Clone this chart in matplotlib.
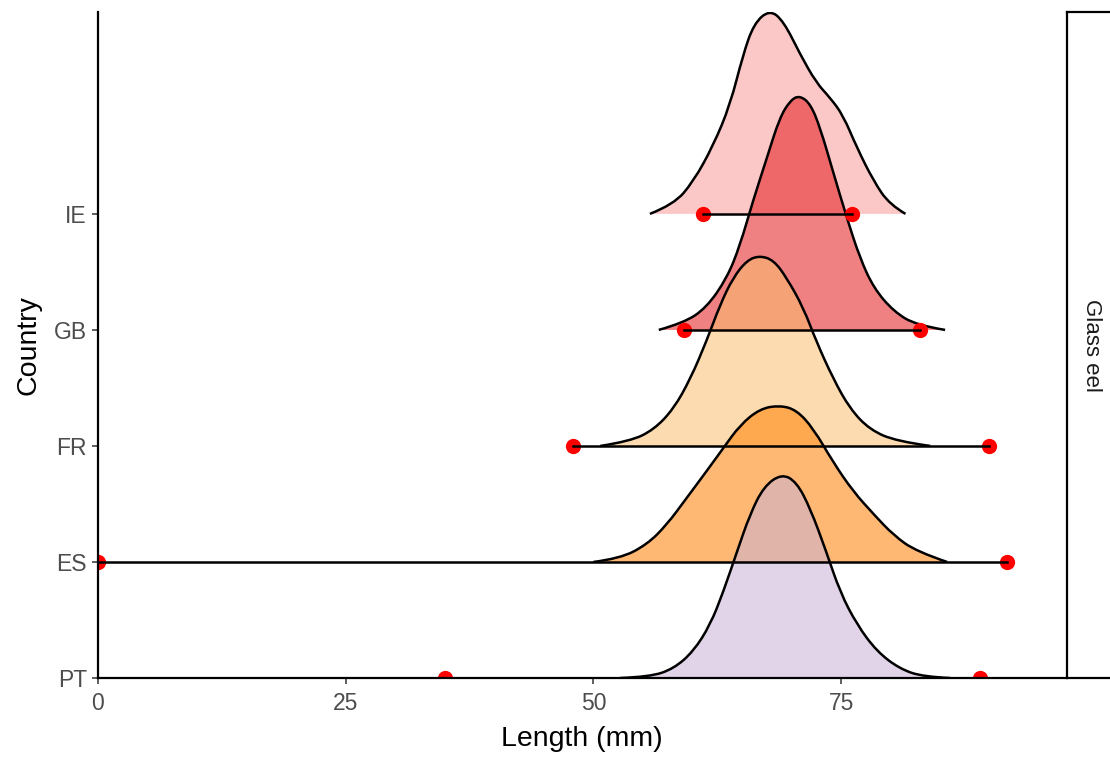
import matplotlib.pyplot as plt
import numpy as np
from matplotlib.path import Path
from matplotlib.patches import PathPatch

plt.rcParams['font.family'] = ['Liberation Sans', 'DejaVu Sans']

countries = ['PT', 'ES', 'FR', 'GB', 'IE']
colors = ['#CAB2D6', '#FF7F00', '#FDBF6F', '#E31A1C', '#FB9A99']

# density outlines (length in mm, ridge height in row units)
ie_x = [55.7, 58.1, 60.1, 62.1, 63.8, 65.1, 66.2, 67.8, 69.2, 70.9, 72.5, 73.9, 75.2, 76.6, 78.3, 79.9, 81.5]
ie_h = [0.0, 0.08, 0.28, 0.59, 0.94, 1.37, 1.64, 1.76, 1.66, 1.37, 1.13, 1.0, 0.85, 0.57, 0.28, 0.08, 0.0]

gb_x = [56.6, 59.1, 61.4, 63.5, 64.8, 66.1, 67.5, 68.8, 69.9, 70.8, 71.9, 72.9, 74.2, 75.6, 76.9, 78.3, 80.3, 82.6, 85.5]
gb_h = [0.0, 0.06, 0.19, 0.45, 0.73, 1.11, 1.48, 1.83, 1.98, 2.02, 1.95, 1.74, 1.36, 0.96, 0.62, 0.36, 0.16, 0.04, 0.0]

fr_x = [50.7, 53.7, 56.1, 58.1, 59.8, 61.4, 62.8, 64.1, 65.5, 66.8, 68.2, 69.5, 71.2, 72.5, 74.2, 75.9, 77.9, 80.6, 84.0]
fr_h = [0.0, 0.04, 0.14, 0.32, 0.58, 0.90, 1.22, 1.45, 1.60, 1.64, 1.60, 1.45, 1.19, 0.90, 0.58, 0.32, 0.14, 0.04, 0.0]

es_x = [50.0, 52.7, 55.4, 57.4, 59.4, 61.4, 63.1, 64.8, 66.8, 68.8, 70.5, 72.2, 74.2, 76.2, 78.3, 80.3, 82.6, 85.7]
es_h = [0.0, 0.03, 0.15, 0.32, 0.55, 0.78, 0.98, 1.18, 1.32, 1.35, 1.31, 1.15, 0.86, 0.61, 0.41, 0.23, 0.09, 0.0]

pt_x = [52.7, 55.7, 58.1, 60.1, 61.8, 63.1, 64.5, 65.8, 67.2, 69.0, 70.5, 71.9, 73.5, 74.9, 76.6, 78.6, 80.9, 83.3, 86.0]
pt_h = [0.0, 0.01, 0.08, 0.23, 0.46, 0.74, 1.09, 1.41, 1.65, 1.76, 1.69, 1.46, 1.09, 0.74, 0.46, 0.23, 0.08, 0.01, 0.0]

ridges_x = [pt_x, es_x, fr_x, gb_x, ie_x]
ridges_h = [pt_h, es_h, fr_h, gb_h, ie_h]

# min / max lengths per country
len_min = [35.0, 0.0, 47.9, 59.1, 61.1]
len_max = [89.0, 91.7, 89.9, 83.0, 76.1]


def smooth_path(xs, ys, close_at=None):
    # quadratic bezier through the midpoints, read points act as control points
    pts = [(xs[0], ys[0])]
    codes = [Path.MOVETO]
    for k in range(1, len(xs) - 1):
        mx = (xs[k] + xs[k + 1]) / 2
        my = (ys[k] + ys[k + 1]) / 2
        if k == len(xs) - 2:
            mx, my = xs[k + 1], ys[k + 1]
        pts += [(xs[k], ys[k]), (mx, my)]
        codes += [Path.CURVE3, Path.CURVE3]
    if close_at is not None:
        pts += [(xs[-1], close_at), (xs[0], close_at), (xs[0], ys[0])]
        codes += [Path.LINETO, Path.LINETO, Path.CLOSEPOLY]
    return Path(pts, codes)


fig = plt.figure(figsize=(11.1, 7.58), dpi=100)
ax = fig.add_axes([98 / 1110, 1 - 678 / 758, (1066 - 98) / 1110, (678 - 12) / 758])

# top ridge first so the lower ones sit on top of it
for i in range(len(countries) - 1, -1, -1):
    base = i + 1
    xs = list(ridges_x[i])
    ys = list(base + np.array(ridges_h[i]))
    ax.add_patch(PathPatch(smooth_path(xs, ys, close_at=base), facecolor=colors[i],
                           alpha=0.55, lw=0))
    ax.add_patch(PathPatch(smooth_path(xs, ys), facecolor='none', edgecolor='black',
                           lw=1.8, joinstyle='round', capstyle='butt'))

for i in range(len(countries)):
    ax.plot([len_min[i], len_max[i]], [i + 1, i + 1], 'o', color='red', ms=11, mec='none')
    ax.plot([len_min[i], len_max[i]], [i + 1, i + 1], color='black', lw=1.8)

ax.set_xlim(0, 97.7)
ax.set_ylim(1, 6.74)
ax.set_xticks([0, 25, 50, 75])
ax.set_yticks(range(1, len(countries) + 1))
ax.set_yticklabels(countries)
ax.tick_params(colors='#333333', labelcolor='#4D4D4D', labelsize=16.5, length=4, width=1.1, pad=4)
ax.tick_params(axis='x', pad=6)
for s in ['top', 'right']:
    ax.spines[s].set_visible(False)
for s in ['left', 'bottom']:
    ax.spines[s].set_linewidth(1.6)
    ax.spines[s].set_color('black')
ax.set_xlabel('Length (mm)', fontsize=20.5, labelpad=8)
ax.set_ylabel('Country', fontsize=20.5, labelpad=9)

# facet strip on the right
sx = fig.add_axes([1067 / 1110, 1 - 678 / 758, 50 / 1110, (678 - 12) / 758])
sx.set_xticks([])
sx.set_yticks([])
for s in sx.spines.values():
    s.set_linewidth(1.6)
    s.set_color('black')
sx.text(0.5, 0.5, 'Glass eel', rotation=-90, ha='center', va='center',
        fontsize=16, color='#1A1A1A', transform=sx.transAxes)

fig.savefig('out.png', dpi=100)
